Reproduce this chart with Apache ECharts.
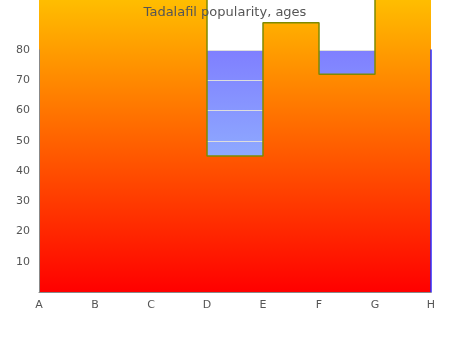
<!DOCTYPE html>
<html><head><meta charset="utf-8">
<script src="https://cdn.jsdelivr.net/npm/echarts@6/dist/echarts.min.js"></script>
<style>html,body{margin:0;padding:0;background:#fff}#c{width:450px;height:350px}</style>
</head><body><div id="c"></div>
<script>
var categories = ['A','B','C','D','E','F','G','H'];
var popularity = [100, 100, 100, 45, 89, 72, 100, 100];
var titleText = 'Tadalafil popularity, ages';
var yMin = 0, yMax = 80, yStep = 10;

var chart = echarts.init(document.getElementById('c'), null, {renderer:'canvas'});
chart.setOption({
  animation: false,
  title: {text: titleText, left: 'center', top: 1,
    textStyle: {fontFamily: 'DejaVu Sans', fontSize: 13, fontWeight: 'normal', color: '#555'}},
  grid: {left: 39, right: 19, top: 50, bottom: 58, show: true, borderWidth: 0,
    backgroundColor: new echarts.graphic.LinearGradient(0,0,0,1,[{offset:0,color:'#7f7fff'},{offset:1,color:'#a2dfff'}])},
  xAxis: {type: 'category', data: categories, boundaryGap: false, z: 5,
    axisLine: {lineStyle: {color: '#888'}}, axisTick: {show: false},
    axisLabel: {color: '#555', fontFamily: 'DejaVu Sans', fontSize: 11, margin: 8},
    splitLine: {show: false}},
  yAxis: [{type: 'value', min: yMin, max: yMax, interval: yStep, z: 0,
    axisLine: {show: false}, axisTick: {show: false},
    axisLabel: {color: '#555', fontFamily: 'DejaVu Sans', fontSize: 11, margin: 9, showMinLabel: false},
    splitLine: {show: true, lineStyle: {color: '#ddd'}}},
   {type: 'value', min: yMin, max: yMax, interval: yStep, position: 'left', offset: 0, z: 5,
    axisLine: {show: true, onZero: false, lineStyle: {color: '#888'}}, axisTick: {show: false},
    axisLabel: {show: false}, splitLine: {show: false}},
   {type: 'value', min: yMin, max: yMax, interval: yStep, position: 'right', z: 5,
    axisLine: {show: true, lineStyle: {color: '#2a2aff', width: 1.5}}, axisTick: {show: false},
    axisLabel: {show: false}, splitLine: {show: false}}],
  series: [{type: 'line', data: popularity, step: 'end', clip: false, symbol: 'none', z: 2,
    lineStyle: {color: '#7f8a00', width: 1.5},
    areaStyle: {opacity: 1, color: new echarts.graphic.LinearGradient(0,0,0,1,[{offset:0,color:'#ffc400'},{offset:1,color:'#ff0000'}])}}]
});
</script></body></html>
